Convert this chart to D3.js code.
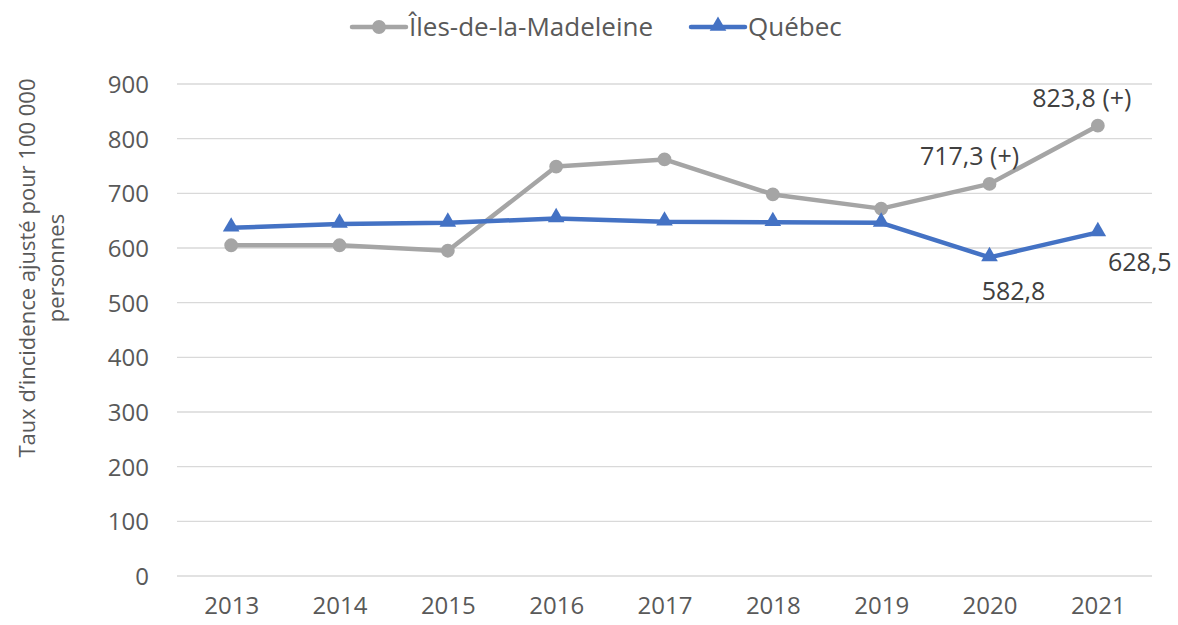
<!DOCTYPE html>
<html>
<head>
<meta charset="utf-8">
<script src="https://cdn.jsdelivr.net/npm/d3@7"></script>
<style>
  body { margin: 0; background: #fff; }
  svg { font-family: "Open Sans", "Noto Sans", sans-serif; }
  .axis text { fill: #595959; font-size: 24px; font-family: "Open Sans", "Noto Sans", sans-serif; }
  .axis path, .axis line { display: none; }
  .grid line { stroke: #d9d9d9; stroke-width: 1.3; }
</style>
</head>
<body>
<div id="chart"></div>
<script>
const years = ['2013','2014','2015','2016','2017','2018','2019','2020','2021'];
const iles = [605, 605, 595, 749, 762, 698, 672, 717.3, 823.8];
const quebec = [637, 644, 646, 654, 648, 647, 646, 582.8, 628.5];
const yTicks = [0, 100, 200, 300, 400, 500, 600, 700, 800, 900];

// data labels shown on the chart: [series, index, text, dx, dy]
const labels = [
	['iles', 7, '717,3 (+)', -20, -28],
	['iles', 8, '823,8 (+)', -16, -27],
	['quebec', 7, '582,8', 24, 34],
	['quebec', 8, '628,5', 42, 30]
];

const width = 1178, height = 625;
const margin = {t:84, r:26, b:49, l:177};
const w = width - margin.l - margin.r;
const h = height - margin.t - margin.b;

const svg = d3.select('#chart').append('svg')
	.attr('width', width)
	.attr('height', height);

const plot = svg.append('g')
	.attr('transform', `translate(${margin.l},${margin.t})`);

const scaleX = d3.scalePoint().domain(years).range([0, w]).padding(0.5);
const scaleY = d3.scaleLinear().domain([0, 900]).range([h, 0]);

//Gridlines
plot.append('g').attr('class','grid')
	.selectAll('line')
	.data(yTicks)
	.join('line')
	.attr('x1', 0).attr('x2', w)
	.attr('y1', d => scaleY(d)).attr('y2', d => scaleY(d));

//Axes
plot.append('g').attr('class','axis axis-y')
	.call(d3.axisLeft(scaleY).tickValues(yTicks).tickSize(0).tickPadding(28))
	.selectAll('text').attr('dy','0.35em');

plot.append('g').attr('class','axis axis-x')
	.attr('transform', `translate(0,${h})`)
	.call(d3.axisBottom(scaleX).tickSize(0).tickPadding(21));

//Axis title
const title = svg.append('text')
	.attr('transform', 'translate(44,268) rotate(-90)')
	.attr('text-anchor', 'middle')
	.style('fill', '#595959')
	.style('font-size', '22px');
title.append('tspan').attr('x', 0).attr('dy', '-0.4em').text('Taux d\u2019incidence ajusté pour 100 000');
title.append('tspan').attr('x', 0).attr('dy', '1.3em').text('personnes');

//Lines
const series = [
	{key:'iles', name:'Îles-de-la-Madeleine', values: iles, color:'#a5a5a5', marker:'circle'},
	{key:'quebec', name:'Québec', values: quebec, color:'#4472c4', marker:'triangle'}
];

const line = d3.line()
	.x((d, i) => scaleX(years[i]))
	.y(d => scaleY(d));

const circleSym = d3.symbol().type(d3.symbolCircle).size(150);
const triSym = d3.symbol().type(d3.symbolTriangle).size(120);

series.forEach(s => {
	plot.append('path')
		.datum(s.values)
		.attr('fill', 'none')
		.attr('stroke', s.color)
		.attr('stroke-width', 4.5)
		.attr('stroke-linejoin', 'round')
		.attr('d', line);

	plot.selectAll('.m-' + s.key)
		.data(s.values)
		.join('path')
		.attr('class', 'm-' + s.key)
		.attr('transform', (d, i) => `translate(${scaleX(years[i])},${scaleY(d) + (s.marker === 'triangle' ? -1 : 0)})`)
		.attr('d', s.marker === 'circle' ? circleSym : triSym)
		.attr('fill', s.color);
});

//Data labels
const byKey = {iles: iles, quebec: quebec};
plot.selectAll('.dlabel')
	.data(labels)
	.join('text')
	.attr('class', 'dlabel')
	.attr('x', d => scaleX(years[d[1]]) + d[3])
	.attr('y', d => scaleY(byKey[d[0]][d[1]]) + d[4])
	.attr('dy', '0.35em')
	.attr('text-anchor', 'middle')
	.style('fill', '#404040')
	.style('font-size', '25px')
	.text(d => d[2]);

//Legend
const legend = svg.append('g').attr('transform', 'translate(0,27)');
const legendItems = [
	{s: series[0], x: 352},
	{s: series[1], x: 691}
];
legendItems.forEach(li => {
	const g = legend.append('g').attr('transform', `translate(${li.x},0)`);
	g.append('line')
		.attr('x1', 0).attr('x2', 54)
		.attr('stroke', li.s.color)
		.attr('stroke-width', 4.5)
		.attr('stroke-linecap', 'round');
	g.append('path')
		.attr('transform', `translate(27,${li.s.marker === 'triangle' ? -1 : 0})`)
		.attr('d', li.s.marker === 'circle' ? circleSym : triSym)
		.attr('fill', li.s.color);
	g.append('text')
		.attr('x', 57)
		.attr('dy', '0.35em')
		.style('fill', '#595959')
		.style('font-size', '26px')
		.text(li.s.name);
});
</script>
</body>
</html>
